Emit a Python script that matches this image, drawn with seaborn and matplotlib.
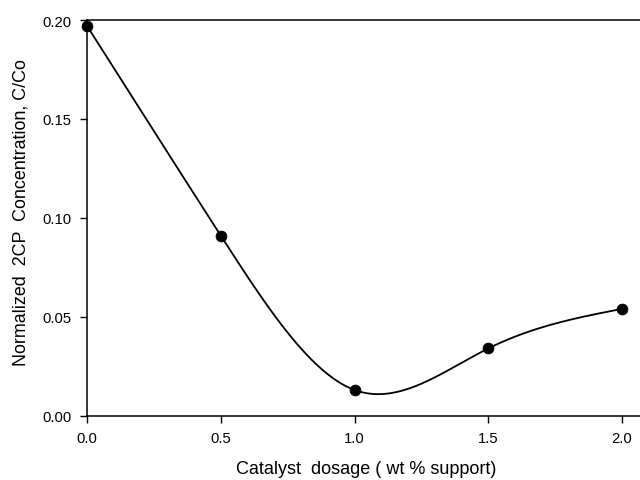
import numpy as np
import pandas as pd
import matplotlib
matplotlib.use("Agg")
import matplotlib.pyplot as plt
import seaborn as sns

dosage = [0.0, 0.5, 1.0, 1.5, 2.0]
conc = [0.197, 0.091, 0.013, 0.034, 0.054]
xticks = [0.0, 0.5, 1.0, 1.5, 2.0]
yticks = [0.00, 0.05, 0.10, 0.15, 0.20]

def natural_spline(x, y, xs):
    x = np.asarray(x, float); y = np.asarray(y, float)
    n = len(x)
    h = np.diff(x)
    A = np.zeros((n, n)); b = np.zeros(n)
    A[0, 0] = 1; A[-1, -1] = 1
    for i in range(1, n - 1):
        A[i, i - 1] = h[i - 1]
        A[i, i] = 2 * (h[i - 1] + h[i])
        A[i, i + 1] = h[i]
        b[i] = 3 * ((y[i + 1] - y[i]) / h[i] - (y[i] - y[i - 1]) / h[i - 1])
    c = np.linalg.solve(A, b)
    out = np.empty_like(xs)
    for k, xv in enumerate(xs):
        i = min(np.searchsorted(x, xv, side="right") - 1, n - 2)
        i = max(i, 0)
        bi = (y[i + 1] - y[i]) / h[i] - h[i] * (2 * c[i] + c[i + 1]) / 3
        di = (c[i + 1] - c[i]) / (3 * h[i])
        t = xv - x[i]
        out[k] = y[i] + bi * t + c[i] * t**2 + di * t**3
    return out

xs = np.linspace(dosage[0], dosage[-1], 300)
curve = pd.DataFrame({"x": xs, "y": natural_spline(dosage, conc, xs)})
pts = pd.DataFrame({"x": dosage, "y": conc})

sns.set_style("ticks")
plt.rcParams["font.family"] = ["Liberation Sans", "DejaVu Sans"]
plt.rcParams["text.color"] = "black"
plt.rcParams["axes.labelcolor"] = "black"

fig = plt.figure(figsize=(6.4, 4.81), dpi=100)
ax = fig.add_axes([0.136, 0.1337, 0.864, 0.8226])
sns.lineplot(data=curve, x="x", y="y", ax=ax, color="black", linewidth=1.3)
sns.scatterplot(data=pts, x="x", y="y", ax=ax, color="black", s=60, zorder=5,
                edgecolor="black", clip_on=False)

ax.set_xlim(0, 2.067)
ax.set_ylim(0, 0.20)
ax.set_xticks(xticks)
ax.set_yticks(yticks)
ax.set_xticklabels([f"{v:.1f}" for v in xticks], fontsize=10.7)
ax.set_yticklabels([f"{v:.2f}" for v in yticks], fontsize=10.7)
ax.tick_params(direction="out", length=5, width=1, colors="black", pad=6)
ax.spines["right"].set_visible(False)
for s in ["left", "bottom", "top"]:
    ax.spines[s].set_linewidth(1.1)
    ax.spines[s].set_color("black")
ax.set_xlabel("Catalyst  dosage ( wt % support)", fontsize=13, color="black")
ax.set_ylabel("Normalized  2CP  Concentration, C/Co", fontsize=12.9, color="black")
ax.yaxis.set_label_coords(-0.104, 0.516)
ax.xaxis.set_label_coords(0.505, -0.112)
fig.savefig("out.png", dpi=100)
